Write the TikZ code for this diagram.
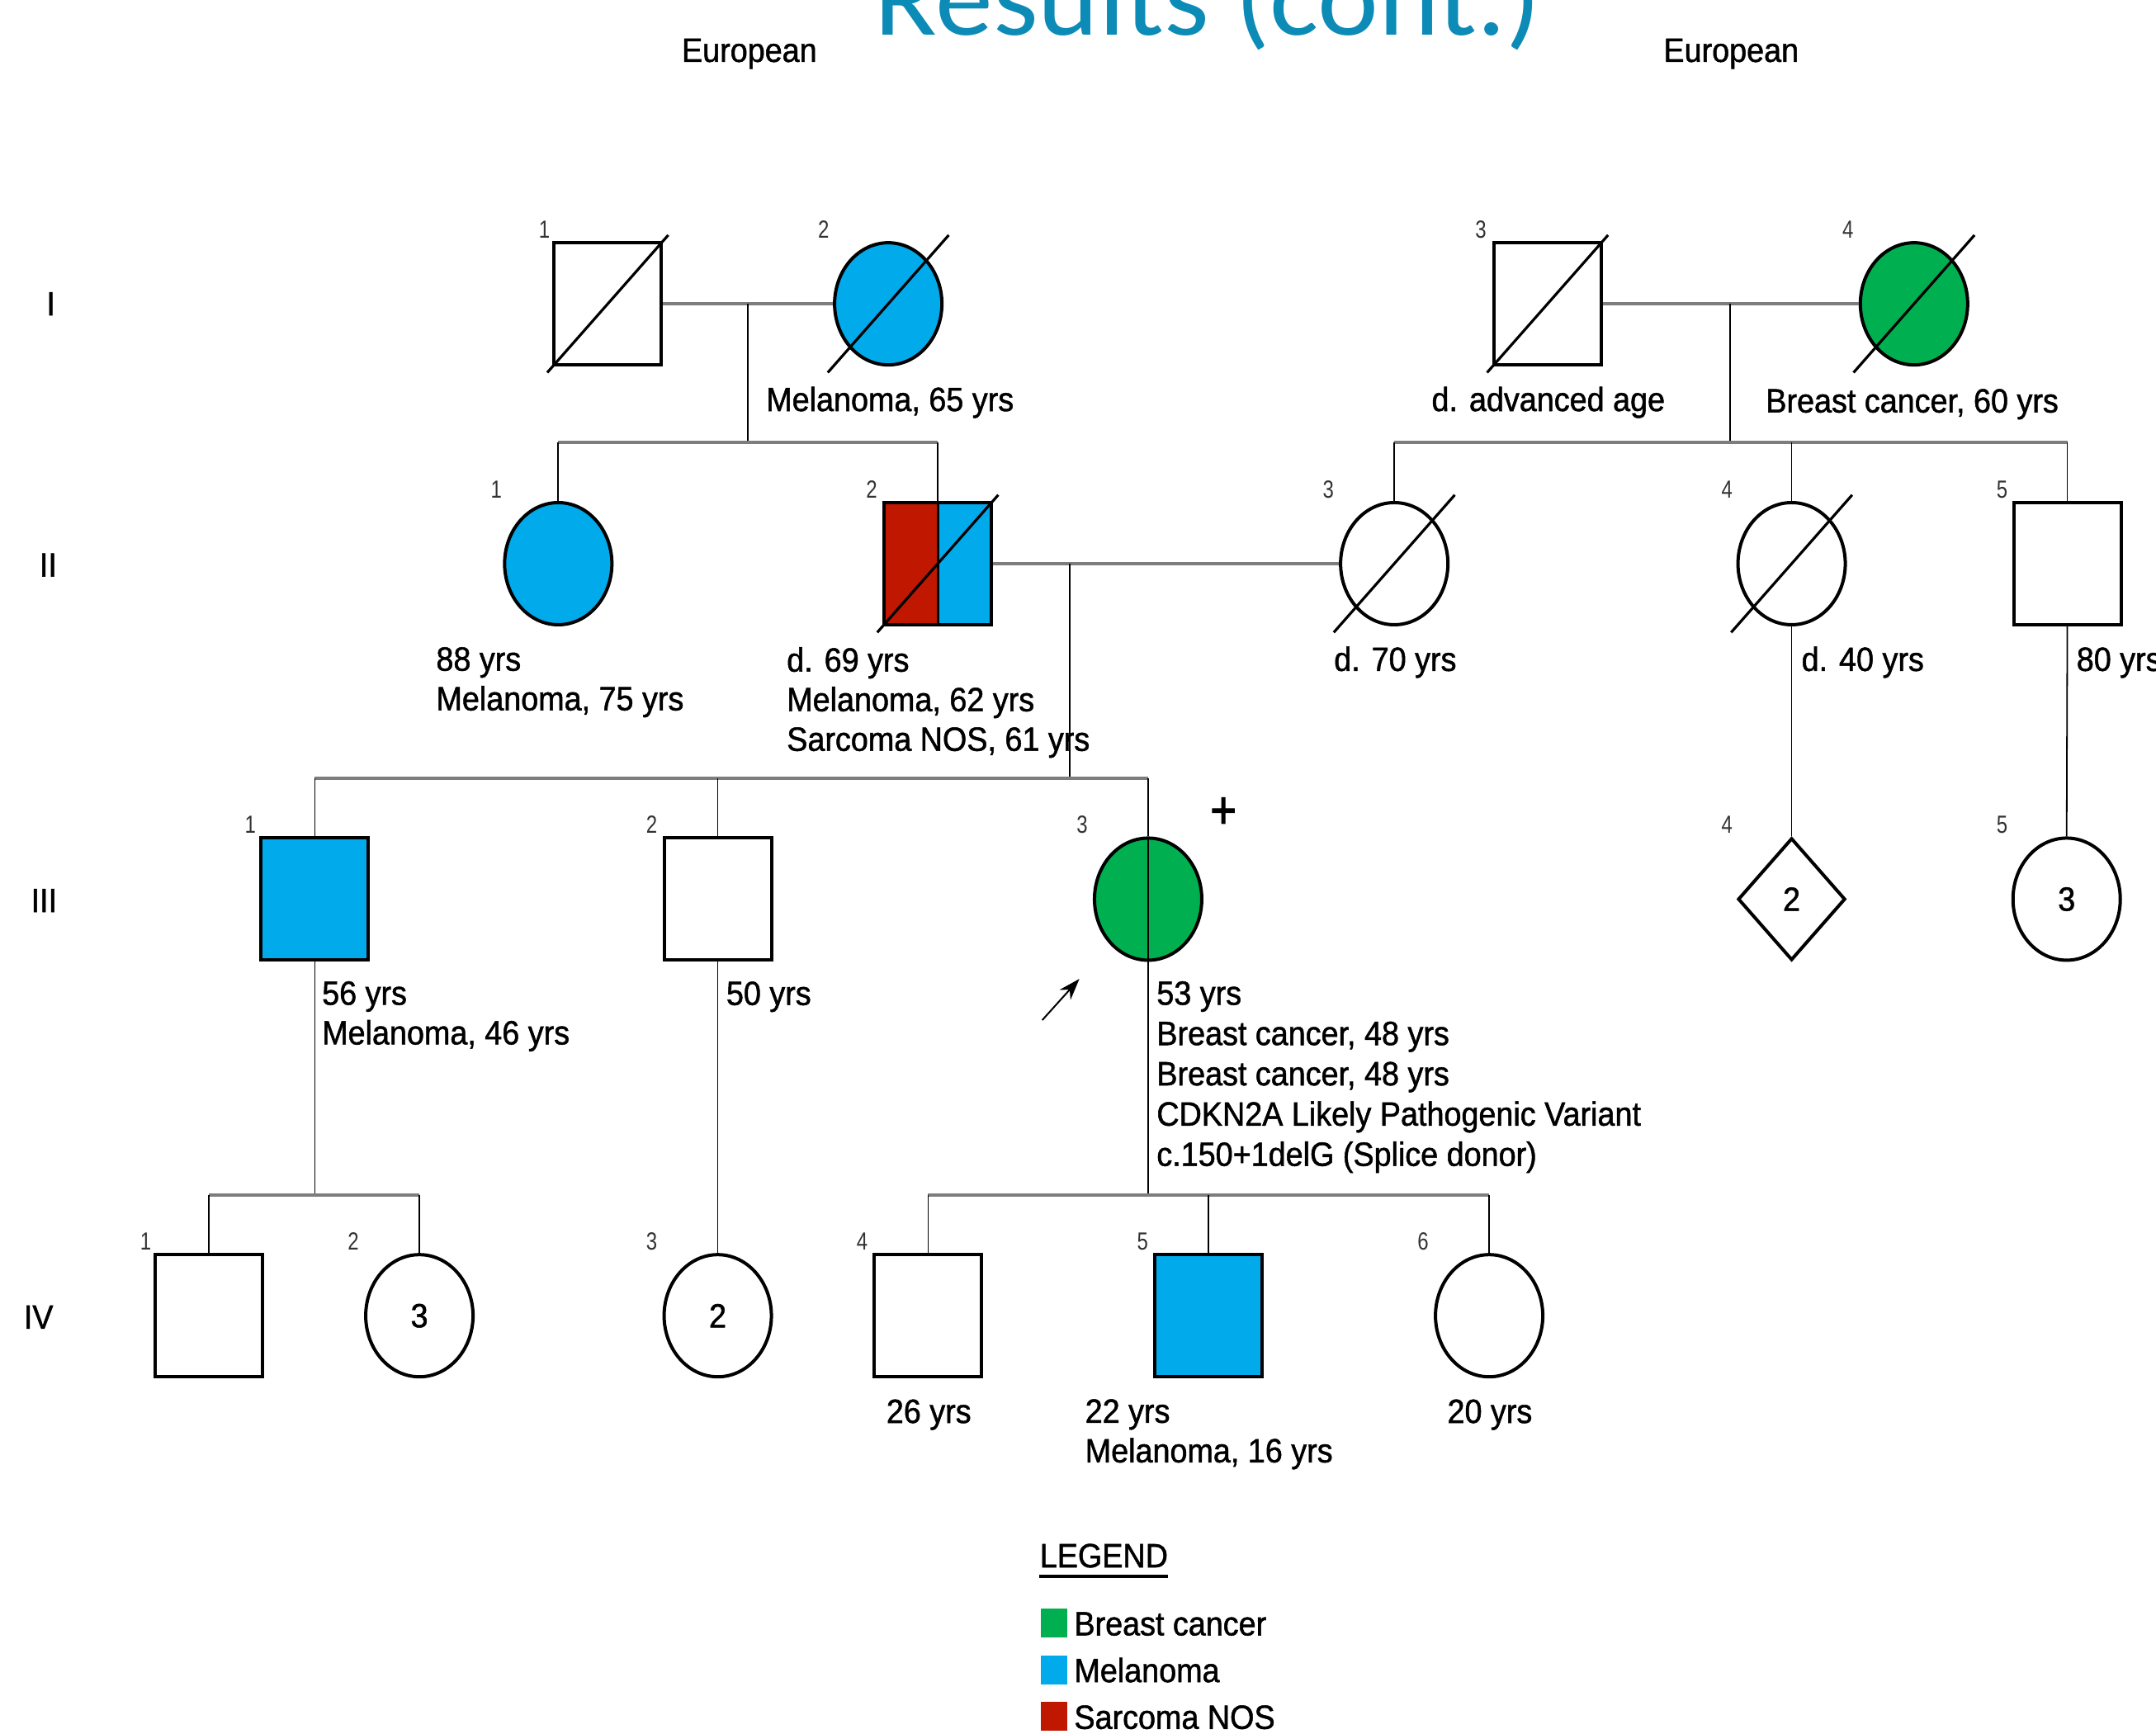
\documentclass[tikz,border=0pt]{standalone}
\usepackage{fontspec}
\setmainfont{Liberation Sans}[FakeStretch=0.925,FakeBold=1.2]
\newfontfamily\titlefont{Carlito}[FakeStretch=1.05]
\newfontfamily\numfont{Liberation Sans}[FakeStretch=0.8]
\newfontfamily\plusfont{Liberation Sans}[FakeStretch=0.84,FakeBold=2]
\usetikzlibrary{shapes.geometric,arrows.meta,calc}
\definecolor{melblue}{RGB}{0,170,235}
\definecolor{bcgreen}{RGB}{0,176,80}
\definecolor{sarred}{RGB}{192,24,0}
\definecolor{titleblue}{RGB}{13,139,183}
\definecolor{linegray}{RGB}{125,125,125}
\newcommand\lblfont{\fontsize{20.4pt}{24pt}\selectfont}
\newcommand\smallnumfont{\numfont\fontsize{15pt}{15pt}\selectfont}
\begin{document}
\begin{tikzpicture}[x=0.8329pt,y=-0.8329pt,
  male/.style={draw=black,line width=2pt,rectangle,minimum width=65pt,minimum height=74pt,inner sep=0pt,fill=white,font=\lblfont},
  female/.style={draw=black,line width=2pt,ellipse,minimum width=65pt,minimum height=74pt,inner sep=0pt,fill=white,font=\lblfont},
  unk/.style={draw=black,line width=2pt,diamond,minimum width=65pt,minimum height=74pt,inner sep=0pt,fill=white,font=\lblfont},
  slash/.style={draw=black,line width=1.6pt},
  hline/.style={draw=linegray,line width=2pt},
  vline/.style={draw=black,line width=0.9pt},
  lbl/.style={font=\lblfont,inner sep=0pt,align=left,anchor=north west},
  lone/.style={font=\lblfont,inner sep=0pt,anchor=base west},
  num/.style={font=\smallnumfont,text=black!80,inner sep=0pt},
  gen/.style={font=\lblfont,inner sep=0pt},
  legsq/.style={rectangle,inner sep=0pt,minimum width=15.8pt,minimum height=17.5pt}]
\useasboundingbox (0,0) rectangle (1568,1261);
\fill[white] (0,0) rectangle (1568,1261);
\begin{scope}
\clip (0,0) rectangle (1568,1261);
\node[font=\titlefont\fontsize{66.6pt}{72pt}\selectfont,text=titleblue,anchor=base west,inner sep=0pt] (title) at (636,25.6) {Results (cont.)};
\end{scope}

\node[lone,anchor=base] (eu1) at (545,45) {European};
\node[lone,anchor=base] (eu2) at (1259,45) {European};

% generation labels
\node[gen] (g1) at (37,221) {I};
\node[gen] (g2) at (35,411) {II};
\node[gen] (g3) at (32,655) {III};
\node[gen] (g4) at (28,958) {IV};

% individuals
\node[male] (i1) at (442,221) {};
\node[female,fill=melblue] (i2) at (646,221) {};
\node[male] (i3) at (1125.5,221) {};
\node[female,fill=bcgreen] (i4) at (1392,221) {};

\node[female,fill=melblue] (ii1) at (406,410) {};
\node[male,path picture={
   \fill[sarred] (path picture bounding box.south west) rectangle (path picture bounding box.north);
   \fill[melblue] (path picture bounding box.south) rectangle (path picture bounding box.north east);
   \draw[line width=1.5pt] (path picture bounding box.south) -- (path picture bounding box.north);}] (ii2) at (682,410) {};
\node[female] (ii3) at (1014,410) {};
\node[female] (ii4) at (1303,410) {};
\node[male] (ii5) at (1503.5,410) {};

\node[male,fill=melblue] (iii1) at (229,654) {};
\node[male] (iii2) at (522,654) {};
\node[female,fill=bcgreen,path picture={
   \draw[line width=1.2pt] (path picture bounding box.south) -- (path picture bounding box.north);}] (iii3) at (835,654) {};
\node[unk] (iii4) at (1303,654) {2};
\node[female] (iii5) at (1503,654) {3};

\node[male] (iv1) at (152,957) {};
\node[female] (iv2) at (305,957) {3};
\node[female] (iv3) at (522,957) {2};
\node[male] (iv4) at (675,957) {};
\node[male,fill=melblue] (iv5) at (879,957) {};
\node[female] (iv6) at (1083,957) {};

% deceased slashes
\foreach \n in {i1,i2,i3,i4,ii2,ii3,ii4}
  \draw[slash] (\n.center) ++(-44,50) -- ++(88,-100);

% connectors generation I left
\coordinate (c1) at (544,221);
\coordinate (s1) at (544,322);
\draw[hline] (i1.east) -- (i2.west);
\draw[vline] (c1) -- (s1);
\draw[hline] (ii1.north |- s1) -- (ii2.north |- s1);
\foreach \n in {ii1,ii2} \draw[vline] (\n.north |- s1) -- (\n.north);

% connectors generation I right
\coordinate (c2) at (1258,221);
\coordinate (s2) at (1258,322);
\draw[hline] (i3.east) -- (i4.west);
\draw[vline] (c2) -- (s2);
\draw[hline] (ii3.north |- s2) -- (ii5.north |- s2);
\foreach \n in {ii3,ii4,ii5} \draw[vline] (\n.north |- s2) -- (\n.north);

% generation II
\coordinate (c3) at (778,410);
\coordinate (s3) at (778,566);
\draw[hline] (ii2.east) -- (ii3.west);
\draw[vline] (c3) -- (s3);
\draw[hline] (iii1.north |- s3) -- (iii3.north |- s3);
\foreach \n in {iii1,iii2,iii3} \draw[vline] (\n.north |- s3) -- (\n.north);
\draw[vline] (ii4.south) -- (iii4.north);
\draw[vline] (ii5.south) -- (iii5.north);

% generation III
\coordinate (s4) at (229,869);
\draw[vline] (iii1.south) -- (s4);
\draw[hline] (iv1.north |- s4) -- (iv2.north |- s4);
\foreach \n in {iv1,iv2} \draw[vline] (\n.north |- s4) -- (\n.north);
\draw[vline] (iii2.south) -- (iv3.north);
\coordinate (s5) at (835,869);
\draw[vline] (iii3.south) -- (s5);
\draw[hline] (iv4.north |- s5) -- (iv6.north |- s5);
\foreach \n in {iv4,iv5,iv6} \draw[vline] (\n.north |- s5) -- (\n.north);

% individual numbers
\node[num] (n-i1) at (396,167) {1};
\node[num] (n-i2) at (599,167) {2};
\node[num] (n-i3) at (1077,167) {3};
\node[num] (n-i4) at (1344,167) {4};
\node[num] (n-ii1) at (361,356) {1};
\node[num] (n-ii2) at (634,356) {2};
\node[num] (n-ii3) at (966,356) {3};
\node[num] (n-ii4) at (1256,356) {4};
\node[num] (n-ii5) at (1456,356) {5};
\node[num] (n-iii1) at (182,600) {1};
\node[num] (n-iii2) at (474,600) {2};
\node[num] (n-iii3) at (787,600) {3};
\node[num] (n-iii4) at (1256,600) {4};
\node[num] (n-iii5) at (1456,600) {5};
\node[num] (n-iv1) at (106,903) {1};
\node[num] (n-iv2) at (257,903) {2};
\node[num] (n-iv3) at (474,903) {3};
\node[num] (n-iv4) at (627,903) {4};
\node[num] (n-iv5) at (831,903) {5};
\node[num] (n-iv6) at (1035,903) {6};

% annotations
\node[lone] (t-i2) at (557,299) {Melanoma, 65 yrs};
\node[lone] (t-i3) at (1041,299) {d. advanced age};
\node[lone] (t-i4) at (1284,300) {Breast cancer, 60 yrs};
\node[lbl] (t-ii1) at (317,470.5) {88 yrs\\Melanoma, 75 yrs};
\node[lbl] (t-ii2) at (572,470.5) {d. 69 yrs\\Melanoma, 62 yrs\\Sarcoma NOS, 61 yrs};
\node[lone] (t-ii3) at (970,488) {d. 70 yrs};
\node[lone] (t-ii4) at (1310,488) {d. 40 yrs};
\node[lone] (t-ii5) at (1510,488) {80 yrs};
\node[lbl] (t-iii1) at (234,713.5) {56 yrs\\Melanoma, 46 yrs};
\node[lone] (t-iii2) at (528,731) {50 yrs};
\node[lbl,font=\fontsize{20.4pt}{24.4pt}\selectfont] (t-iii3) at (841,713.5) {53 yrs\\Breast cancer, 48 yrs\\Breast cancer, 48 yrs\\CDKN2A Likely Pathogenic Variant\\c.150+1delG (Splice donor)};
\node[lone,anchor=base] (t-iv4) at (675.5,1035) {26 yrs};
\node[lbl] (t-iv5) at (789,1017.5) {22 yrs\\Melanoma, 16 yrs};
\node[lone,anchor=base] (t-iv6) at (1083.5,1035) {20 yrs};

\node[font=\plusfont\fontsize{32pt}{32pt}\selectfont,inner sep=0pt] (plus) at (889.7,591.3) {+};
\coordinate (arrS) at (758,742);
\coordinate (arrE) at (785,712);
\draw[-{Stealth[length=13pt,width=9pt]},line width=1pt] (arrS) -- (arrE);

% legend
\node[lone] (legend) at (756,1140) {LEGEND};
\draw[line width=2pt] ([yshift=-5pt]legend.south west) -- ([yshift=-5pt]legend.south east);
\node[legsq,fill=bcgreen] (lg1) at (766.5,1180.5) {};
\node[legsq,fill=melblue] (lg2) at (766.5,1214.5) {};
\node[legsq,fill=sarred] (lg3) at (766.5,1248.5) {};
\node[lone] (lt1) at (781,1189.5) {Breast cancer};
\node[lone] (lt2) at (781,1223.5) {Melanoma};
\node[lone] (lt3) at (781,1257.5) {Sarcoma NOS};
\end{tikzpicture}
\end{document}
